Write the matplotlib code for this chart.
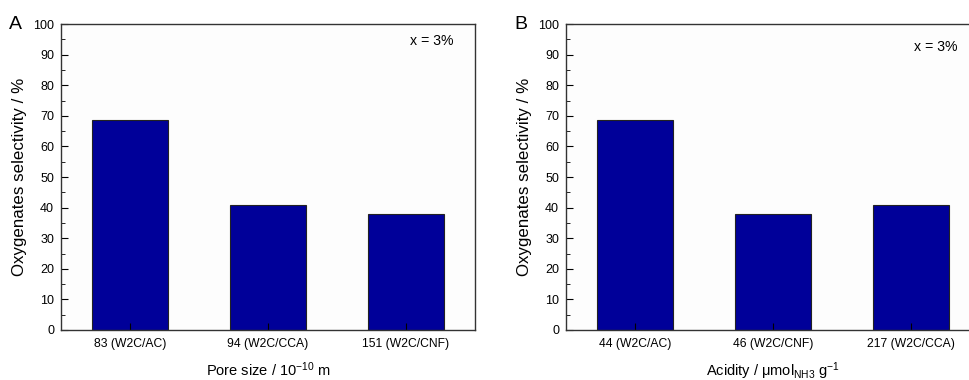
import matplotlib
matplotlib.use("Agg")
import matplotlib.pyplot as plt
from matplotlib.ticker import MultipleLocator

plt.rcParams["font.family"] = ["Liberation Sans", "DejaVu Sans"]
plt.rcParams["mathtext.fontset"] = "custom"
plt.rcParams["mathtext.rm"] = "Liberation Sans"
plt.rcParams["mathtext.it"] = "Liberation Sans:italic"

# panel A: selectivity vs pore size
pore_labels = ["83 (W2C/AC)", "94 (W2C/CCA)", "151 (W2C/CNF)"]
pore_sel = [68.5, 41.0, 38.0]

# panel B: selectivity vs acidity
acid_labels = ["44 (W2C/AC)", "46 (W2C/CNF)", "217 (W2C/CCA)"]
acid_sel = [68.5, 38.0, 41.0]

BAR = "#000099"

fig = plt.figure(figsize=(9.7, 3.8), dpi=100)
axA = fig.add_axes([61/970, 50/380, 414/970, 306/380])
axB = fig.add_axes([566/970, 50/380, 414/970, 306/380])

def panel(ax, labels, vals, xlabel, letter):
    x = list(range(1, len(vals) + 1))
    ax.bar(x, vals, width=0.55, color=BAR, edgecolor="#222222", linewidth=0.8)
    ax.set_xlim(0.5, 3.5)
    ax.set_ylim(0, 100)
    ax.set_xticks(x)
    ax.set_xticklabels(labels, fontsize=8.7)
    ax.yaxis.set_major_locator(MultipleLocator(10))
    ax.yaxis.set_minor_locator(MultipleLocator(5))
    ax.tick_params(axis="y", which="major", direction="in", length=5, labelsize=9, pad=5)
    ax.tick_params(axis="y", which="minor", direction="in", length=3)
    ax.tick_params(axis="x", which="major", direction="in", length=5, pad=6)
    for s in ax.spines.values():
        s.set_linewidth(1.0)
        s.set_color("#333333")
    ax.set_ylabel("Oxygenates selectivity / %", fontsize=12.2, labelpad=4)
    ax.set_xlabel(xlabel, fontsize=10.5, labelpad=7)
    ax.set_facecolor("#fdfdfd")
    ax.text(-0.125, 1.0, letter, transform=ax.transAxes, fontsize=14,
            ha="left", va="center")

panel(axA, pore_labels, pore_sel, r"Pore size / 10$^{-10}$ m", "A")
panel(axB, acid_labels, acid_sel, r"Acidity / μmol$_{\mathrm{NH3}}$ g$^{-1}$", "B")

axA.text(0.948, 0.945, "x = 3%", transform=axA.transAxes, fontsize=10.2,
         ha="right", va="center")
axB.text(0.945, 0.925, "x = 3%", transform=axB.transAxes, fontsize=10.2,
         ha="right", va="center")

fig.savefig("out.png", dpi=100)
